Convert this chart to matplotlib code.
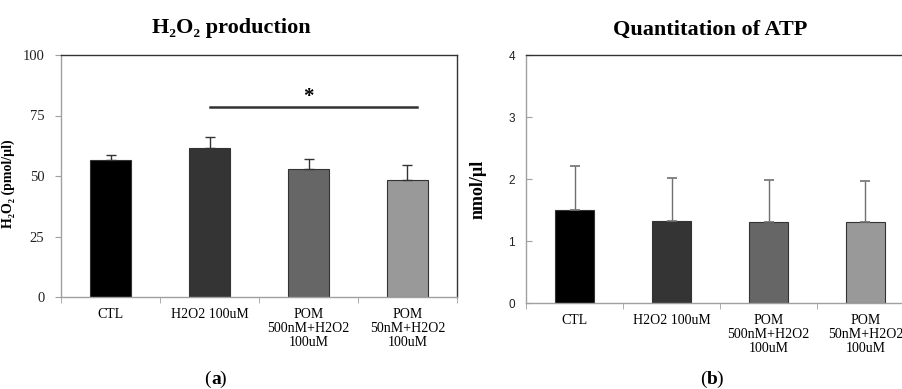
import numpy as np
import matplotlib.pyplot as plt

# data
groups = ["CTL", "H2O2 100uM", "POM\n500nM+H2O2\n100uM", "POM\n50nM+H2O2\n100uM"]
h2o2_mean = [56.5, 61.5, 53.0, 48.5]
h2o2_err = [2.0, 4.5, 4.0, 6.0]
atp_mean = [1.50, 1.33, 1.30, 1.30]
atp_err = [0.71, 0.68, 0.68, 0.67]
bar_colors = ["#000000", "#343434", "#666666", "#999999"]

serif = ["Liberation Serif", "DejaVu Serif"]
sans = ["Liberation Sans", "DejaVu Sans"]

fig = plt.figure(figsize=(9.02, 3.89), dpi=100)
ax1 = fig.add_axes([61 / 902, 1 - 297 / 389, 396 / 902, 242 / 389])
ax2 = fig.add_axes([526 / 902, 1 - 303 / 389, 388 / 902, 248 / 389])

x = np.arange(len(groups))


def style_axes(ax, tick_family, tick_size, tick_dir):
    for side in ["top", "right"]:
        ax.spines[side].set_color("#333333")
        ax.spines[side].set_linewidth(1.0)
    for side in ["left", "bottom"]:
        ax.spines[side].set_color("#a0a0a0")
        ax.spines[side].set_linewidth(1.0)
    ax.set_xlim(-0.5, len(groups) - 0.5)
    ax.set_xticks(x)
    ax.set_xticklabels(groups, family=serif, fontsize=10, linespacing=1.1)
    ax.set_xticks(np.arange(len(groups) + 1) - 0.5, minor=True)
    ax.tick_params(axis="x", which="major", length=0, pad=8)
    ax.tick_params(axis="x", which="minor", length=4, color="#a0a0a0", direction="out")
    ax.tick_params(axis="y", length=4, color="#a0a0a0", direction=tick_dir, pad=8)
    for lab in ax.get_yticklabels():
        lab.set_family(tick_family)
        lab.set_fontsize(tick_size)
        lab.set_color("#222222")


# (a) H2O2 production
ax1.bar(x, h2o2_mean, width=0.41, color=bar_colors, edgecolor="#333333", linewidth=0.8, zorder=2)
ax1.errorbar(x, h2o2_mean, yerr=[[0] * 4, h2o2_err], fmt="none", ecolor="#333333",
             elinewidth=1.0, capsize=3.5, capthick=1.0, zorder=3)
ax1.set_ylim(0, 100)
ax1.set_yticks([0, 25, 50, 75, 100])
style_axes(ax1, serif, 10.5, "out")
ax1.set_ylabel("H\u2082O\u2082 (pmol/\u00b5l)", family=serif, fontsize=10, fontweight="bold")
ax1.yaxis.set_label_coords((15 - 61) / 396, 0.47)
ax1.plot([1.0, 3.1], [78.7, 78.7], color="#333333", linewidth=1.8)
ax1.text(2.0, 82.5, "*", ha="center", va="center", fontsize=15, fontweight="bold", family=serif)

# (b) ATP
ax2.bar(x, atp_mean, width=0.40, color=bar_colors, edgecolor="#333333", linewidth=0.8, zorder=2)
ax2.errorbar(x, atp_mean, yerr=[[0] * 4, atp_err], fmt="none", ecolor="#707070",
             elinewidth=1.0, capsize=3.5, capthick=1.2, zorder=3)
ax2.set_ylim(0, 4)
ax2.set_yticks([0, 1, 2, 3, 4])
style_axes(ax2, sans, 8.5, "in")
ax2.set_ylabel("nmol/\u00b5l", family=serif, fontsize=13, fontweight="bold")
ax2.yaxis.set_label_coords((487 - 526) / 388, 0.46)

# titles and panel captions
fig.text(231 / 902, 1 - 28 / 389, "H\u2082O\u2082 production", ha="center", va="center",
         family=serif, fontsize=16, fontweight="bold")
fig.text(710 / 902, 1 - 30 / 389, "Quantitation of ATP", ha="center", va="center",
         family=serif, fontsize=16, fontweight="bold")
cap_y = 1 - 379 / 389
fig.text(211 / 902, cap_y, "(", ha="right", va="center", family=serif, fontsize=14)
fig.text(211 / 902, cap_y, "a", ha="left", va="center", family=serif, fontsize=14, fontweight="bold")
fig.text(219 / 902, cap_y, ")", ha="left", va="center", family=serif, fontsize=14)
fig.text(707 / 902, cap_y, "(", ha="right", va="center", family=serif, fontsize=14)
fig.text(707 / 902, cap_y, "b", ha="left", va="center", family=serif, fontsize=14, fontweight="bold")
fig.text(716 / 902, cap_y, ")", ha="left", va="center", family=serif, fontsize=14)

fig.savefig("out.png", dpi=100)
